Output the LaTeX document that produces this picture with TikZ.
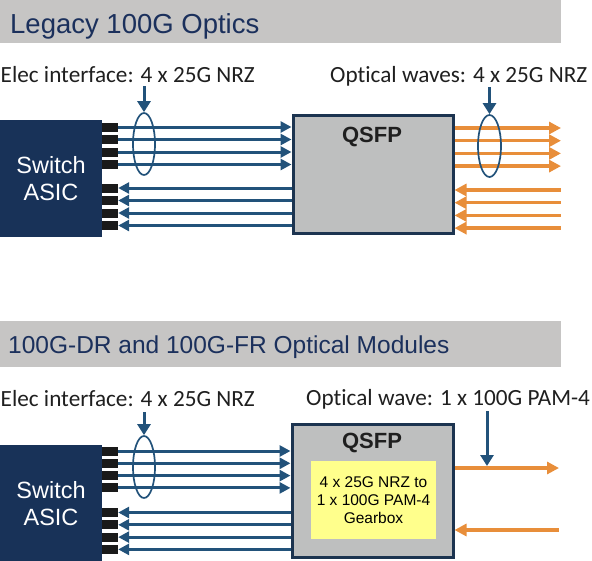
\documentclass[tikz,border=0pt]{standalone}
\usepackage{fontspec}
\setmainfont{Liberation Sans}
\newfontfamily\calfont[Ligatures=CommonOff]{Carlito}
\usepackage{tikz}
\usetikzlibrary{arrows.meta,shapes.geometric}
\definecolor{bargray}{RGB}{198,197,196}
\definecolor{headblue}{RGB}{27,48,92}
\definecolor{asicblue}{RGB}{24,50,88}
\definecolor{wireblue}{RGB}{34,82,122}
\definecolor{optorange}{RGB}{232,142,58}
\definecolor{modgray}{RGB}{190,191,191}
\definecolor{modedge}{RGB}{28,52,80}
\definecolor{boxyellow}{RGB}{255,255,140}
\definecolor{padblack}{RGB}{26,26,26}

\begin{document}
\begin{tikzpicture}[x=1pt, y=-1pt]
\useasboundingbox (0,0) rectangle (592,560);
\tikzstyle{heading} = [anchor=base west, inner sep=0pt, text=headblue]
\tikzstyle{iface} = [anchor=base west, inner sep=0pt, text=black!88, font=\calfont\fontsize{23.2}{26}\selectfont]
\tikzstyle{asic} = [fill=asicblue, text=white, inner sep=0pt, minimum width=102pt, align=center, font=\fontsize{23.5}{27}\selectfont]
\tikzstyle{module} = [draw=modedge, fill=modgray, line width=3pt, inner sep=0pt]
\tikzstyle{pad} = [fill=padblack, minimum width=16pt, minimum height=9pt, inner sep=0pt]
\tikzstyle{bundle} = [ellipse, draw=wireblue, line width=1.7pt, minimum width=22pt, minimum height=62pt, inner sep=0pt]
\tikzstyle{eline} = [draw=wireblue, line width=3pt, >={Triangle[length=11pt,width=11pt]}]
\tikzstyle{oline} = [draw=optorange, line width=3.5pt, >={Triangle[length=12pt,width=12pt]}]
\tikzstyle{pointer} = [draw=wireblue, line width=3pt, >={Triangle[length=11pt,width=13pt]}]

% Legacy 100G Optics
\fill[bargray] (0,0) rectangle (561,43);
\node[heading, font=\fontsize{27.5}{30}\selectfont] (h1) at (10,33) {Legacy 100G Optics};
\node[iface] (i1) at (0.5,82) {Elec interface: 4 x 25G NRZ};
\node[iface] (i2) at (330,82) {Optical waves: 4 x 25G NRZ};
\node[asic, minimum height=117pt] (sw1) at (51,178.5) {Switch\\ASIC};
\node[module, minimum width=160pt, minimum height=118pt] (q1) at (373,174) {};
\node[font=\bfseries\fontsize{22}{24}\selectfont, text=black!88] (q1t) at (372,137) {QSFP};
\node[pad] (a1) at (110,127) {};
\node[pad] (a2) at (110,139.5) {};
\node[pad] (a3) at (110,152) {};
\node[pad] (a4) at (110,164.5) {};
\node[pad] (a5) at (110,188) {};
\node[pad] (a6) at (110,200.5) {};
\node[pad] (a7) at (110,213) {};
\node[pad] (a8) at (110,225.5) {};
\draw[eline, ->] (a1) -- (a1 -| q1.west);
\draw[eline, ->] (a2) -- (a2 -| q1.west);
\draw[eline, ->] (a3) -- (a3 -| q1.west);
\draw[eline, ->] (a4) -- (a4 -| q1.west);
\draw[eline, <-] (a5) -- (a5 -| q1.west);
\draw[eline, <-] (a6) -- (a6 -| q1.west);
\draw[eline, <-] (a7) -- (a7 -| q1.west);
\draw[eline, <-] (a8) -- (a8 -| q1.west);
\coordinate (r1) at (561,128);
\coordinate (r2) at (561,140.7);
\coordinate (r3) at (561,153.4);
\coordinate (r4) at (561,166.1);
\coordinate (r5) at (561,190);
\coordinate (r6) at (561,202.7);
\coordinate (r7) at (561,215.4);
\coordinate (r8) at (561,228.1);
\draw[oline, ->] (q1.east |- r1) -- (r1);
\draw[oline, ->] (q1.east |- r2) -- (r2);
\draw[oline, ->] (q1.east |- r3) -- (r3);
\draw[oline, ->] (q1.east |- r4) -- (r4);
\draw[oline, <-] (q1.east |- r5) -- (r5);
\draw[oline, <-] (q1.east |- r6) -- (r6);
\draw[oline, <-] (q1.east |- r7) -- (r7);
\draw[oline, <-] (q1.east |- r8) -- (r8);
\node[bundle] (e1) at (144,144) {};
\node[bundle, minimum width=23pt] (e2) at (489.5,146) {};
\coordinate (t1) at (144,86);
\coordinate (t2) at (489.5,87);
\draw[pointer, ->] (t1) -- (e1.north);
\draw[pointer, ->] (t2) -- (e2.north);

% 100G-DR and 100G-FR
\fill[bargray] (0,321) rectangle (561,367);
\node[heading, font=\fontsize{24.5}{27}\selectfont] (h2) at (8,353) {100G-DR and 100G-FR Optical Modules};
\node[iface] (i3) at (0.5,406) {Elec interface: 4 x 25G NRZ};
\node[iface] (i4) at (306,405) {Optical wave: 1 x 100G PAM-4};
\node[asic, minimum height=117pt] (sw2) at (51,503.5) {Switch\\ASIC};
\node[module, minimum width=161pt, minimum height=133pt] (q2) at (372.5,490.5) {};
\node[font=\bfseries\fontsize{22}{24}\selectfont, text=black!88] (q2t) at (372,443) {QSFP};
\node[fill=boxyellow, minimum width=125pt, minimum height=78pt, inner sep=0pt, align=center, font=\fontsize{15.5}{18}\selectfont] (gb) at (373.5,500) {4 x 25G NRZ to\\1 x 100G PAM-4\\Gearbox};
\node[pad] (b1) at (110,451) {};
\node[pad] (b2) at (110,463.3) {};
\node[pad] (b3) at (110,475.6) {};
\node[pad] (b4) at (110,487.9) {};
\node[pad] (b5) at (110,512.5) {};
\node[pad] (b6) at (110,524.8) {};
\node[pad] (b7) at (110,537.1) {};
\node[pad] (b8) at (110,549.4) {};
\draw[eline, ->] (b1) -- (b1 -| q2.west);
\draw[eline, ->] (b2) -- (b2 -| q2.west);
\draw[eline, ->] (b3) -- (b3 -| q2.west);
\draw[eline, ->] (b4) -- (b4 -| q2.west);
\draw[eline, <-] (b5) -- (b5 -| q2.west);
\draw[eline, <-] (b6) -- (b6 -| q2.west);
\draw[eline, <-] (b7) -- (b7 -| q2.west);
\draw[eline, <-] (b8) -- (b8 -| q2.west);
\coordinate (s1) at (559,468);
\coordinate (s2) at (559,530);
\draw[oline, ->] (q2.east |- s1) -- (s1);
\draw[oline, <-] (q2.east |- s2) -- (s2);
\node[bundle] (e3) at (144,467) {};
\coordinate (t3) at (144,412);
\coordinate (t4) at (487,411);
\draw[pointer, ->] (t3) -- (e3.north);
\draw[pointer, ->, shorten >=2pt] (t4) -- (t4 |- s1);
\end{tikzpicture}
\end{document}
